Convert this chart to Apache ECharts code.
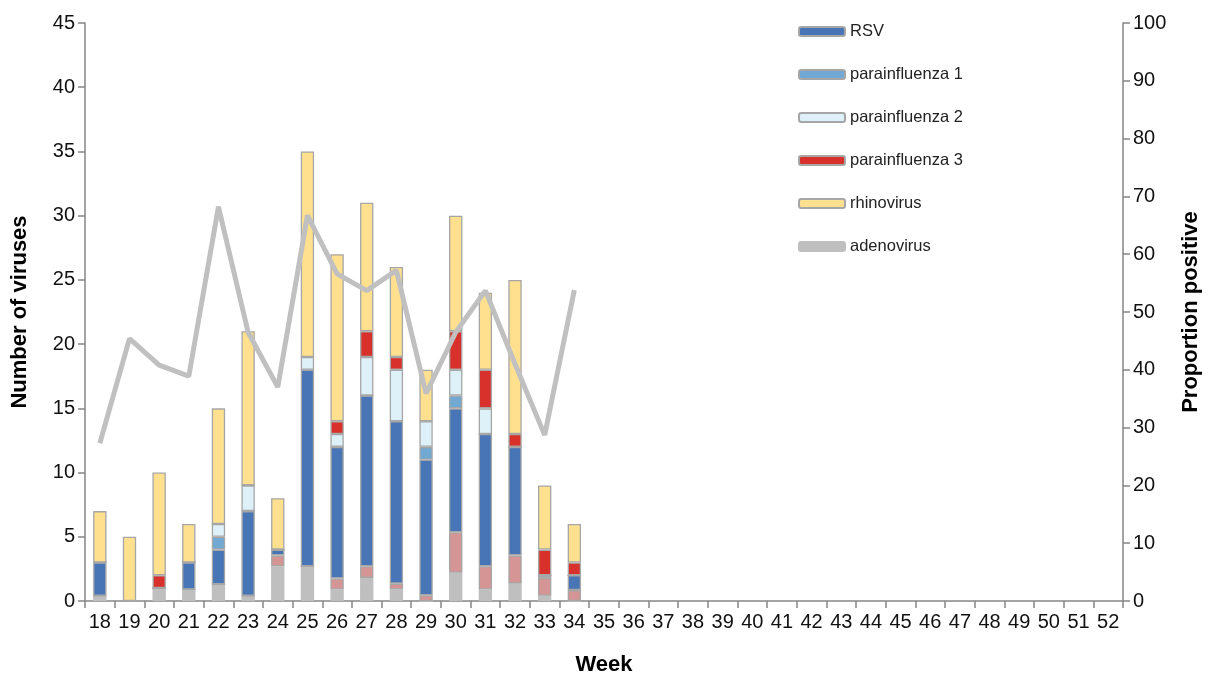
<!DOCTYPE html>
<html><head><meta charset="utf-8">
<script src="https://cdn.jsdelivr.net/npm/echarts@6/dist/echarts.min.js"></script>
<style>html,body{margin:0;padding:0;background:#fff}#c{width:1209px;height:680px}</style>
</head><body><div id="c"></div>
<script>
const weeks = [];
for (let w = 18; w <= 52; w++) weeks.push(String(w));
// weeks 18..34 values
const adenovirus   = [0.4,0,1,0.9,1.3,0.4,2.7,2.7,0.9,1.8,0.9,0,2.2,0.9,1.35,0.4,0];
const unlabelled   = [0,0,0,0,0,0,0.85,0,0.85,0.9,0.45,0.45,3.15,1.8,2.2,1.4,0.85];
const rsv          = [2.6,0,0,2.1,2.7,6.6,0.45,15.3,10.25,13.3,12.65,10.55,9.65,10.3,8.45,0.2,1.15];
const para1        = [0,0,0,0,1,0,0,0,0,0,0,1,1,0,0,0,0];
const para2        = [0,0,0,0,1,2,0,1,1,3,4,2,2,2,0,0,0];
const para3        = [0,0,1,0,0,0,0,0,1,2,1,0,3,3,1,2,1];
const rhinovirus   = [4,5,8,3,9,12,4,16,13,10,7,4,9,6,12,5,3];
const proportion   = [27.3,45.4,40.8,38.9,68.2,46.5,37.0,66.7,56.6,53.7,57.2,35.9,46.5,53.7,41,28.7,53.8];

const pad = a => a.concat(new Array(weeks.length - a.length).fill(null));
const border = {borderColor:'#A6A6A6', borderWidth:1.3};
function bar(name, data, color, extra) {
  return {name, type:'bar', stack:'v', data:pad(data), barWidth:'45%',
    itemStyle:Object.assign({color}, border, extra||{}), emphasis:{disabled:true}};
}
const chart = echarts.init(document.getElementById('c'));
const axisCol = '#868686';
const tick = {show:true, length:7, lineStyle:{color:axisCol, width:1.5}};
const title = {fontSize:22, fontWeight:'bold', color:'#000'};
chart.setOption({
  animation:false,
  textStyle:{fontFamily:'Liberation Sans, Arial, sans-serif'},
  grid:{left:85, right:86, top:23, bottom:79, containLabel:false, outerBoundsMode:'none'},
  legend:{
    orient:'vertical', left:793, top:18, itemGap:26, itemWidth:46, itemHeight:9,
    textStyle:{fontSize:16.5, color:'#222', lineHeight:16},
    data:['RSV','parainfluenza 1','parainfluenza 2','parainfluenza 3','rhinovirus','adenovirus']
  },
  xAxis:{
    type:'category', data:weeks, name:'Week', nameLocation:'middle', nameGap:53,
    nameTextStyle:title,
    axisLine:{lineStyle:{color:axisCol, width:1.5}},
    axisTick:tick,
    axisLabel:{fontSize:20, color:'#111', interval:0, margin:11}
  },
  yAxis:[{
    type:'value', min:0, max:45, interval:5, name:'Number of viruses', nameLocation:'middle', nameGap:54,
    nameTextStyle:title,
    splitLine:{show:false},
    axisLine:{show:true, lineStyle:{color:axisCol, width:1.5}},
    axisTick:tick,
    axisLabel:{fontSize:20, color:'#111', margin:10}
  },{
    type:'value', min:0, max:100, interval:10, name:'Proportion positive', nameLocation:'middle', nameGap:57,
    nameRotate:90,
    nameTextStyle:title,
    splitLine:{show:false},
    axisLine:{show:true, lineStyle:{color:axisCol, width:1.5}},
    axisTick:tick,
    axisLabel:{fontSize:20, color:'#111', margin:10}
  }],
  series:[
    bar('adenovirus', adenovirus, '#BFBFBF', {borderColor:'#BFBFBF'}),
    bar('unlabelled', unlabelled, '#D59595'),
    bar('RSV', rsv, '#4775B5'),
    bar('parainfluenza 1', para1, '#72A9D2'),
    bar('parainfluenza 2', para2, '#DEF1F8'),
    bar('parainfluenza 3', para3, '#D8302A'),
    bar('rhinovirus', rhinovirus, '#FFE08F'),
    {name:'Proportion positive', type:'line', yAxisIndex:1, data:pad(proportion),
     symbol:'none', lineStyle:{color:'#C0C0C0', width:5}, z:5, emphasis:{disabled:true}}
  ]
});
</script></body></html>
